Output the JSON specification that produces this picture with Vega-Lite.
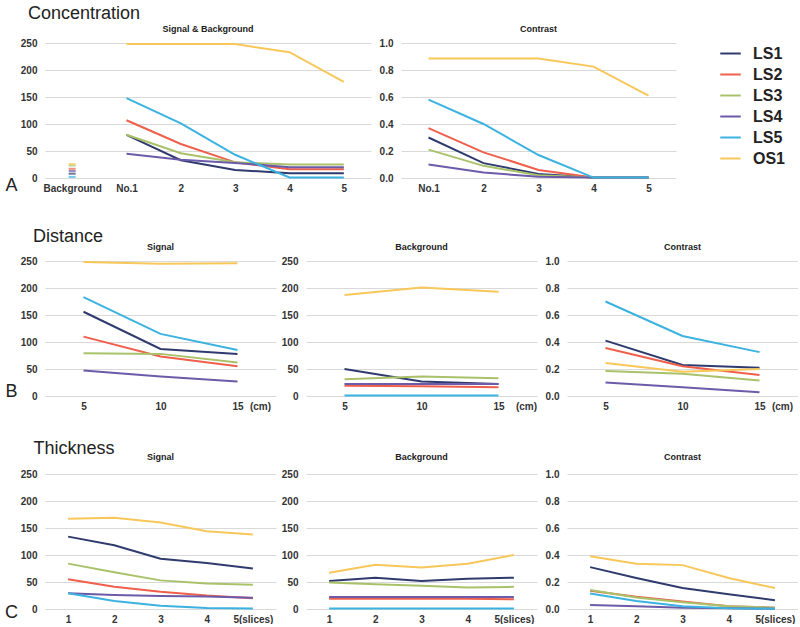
{
"$schema": "https://vega.github.io/schema/vega-lite/v6.json",
"background": "white",
"padding": {"left": 4, "top": 5, "right": 0, "bottom": 0},
"datasets": {"d": [
{"p":"A1","x":"Background","s":"LS1","v":8},{"p":"A1","x":"Background","s":"LS2","v":17},{"p":"A1","x":"Background","s":"LS3","v":23},{"p":"A1","x":"Background","s":"LS4","v":13},{"p":"A1","x":"Background","s":"LS5","v":2},{"p":"A1","x":"Background","s":"OS1","v":26},
{"p":"A1","x":"No.1","s":"LS1","v":80},{"p":"A1","x":"2","s":"LS1","v":33},{"p":"A1","x":"3","s":"LS1","v":15},{"p":"A1","x":"4","s":"LS1","v":9},{"p":"A1","x":"5","s":"LS1","v":9},
{"p":"A1","x":"No.1","s":"LS2","v":107},{"p":"A1","x":"2","s":"LS2","v":63},{"p":"A1","x":"3","s":"LS2","v":29},{"p":"A1","x":"4","s":"LS2","v":16},{"p":"A1","x":"5","s":"LS2","v":16},
{"p":"A1","x":"No.1","s":"LS3","v":80},{"p":"A1","x":"2","s":"LS3","v":46},{"p":"A1","x":"3","s":"LS3","v":29},{"p":"A1","x":"4","s":"LS3","v":25},{"p":"A1","x":"5","s":"LS3","v":25},
{"p":"A1","x":"No.1","s":"LS4","v":45},{"p":"A1","x":"2","s":"LS4","v":34},{"p":"A1","x":"3","s":"LS4","v":28},{"p":"A1","x":"4","s":"LS4","v":20},{"p":"A1","x":"5","s":"LS4","v":20},
{"p":"A1","x":"No.1","s":"LS5","v":148},{"p":"A1","x":"2","s":"LS5","v":101},{"p":"A1","x":"3","s":"LS5","v":43},{"p":"A1","x":"4","s":"LS5","v":1},{"p":"A1","x":"5","s":"LS5","v":1},
{"p":"A1","x":"No.1","s":"OS1","v":248},{"p":"A1","x":"2","s":"OS1","v":248},{"p":"A1","x":"3","s":"OS1","v":248},{"p":"A1","x":"4","s":"OS1","v":233},{"p":"A1","x":"5","s":"OS1","v":178},
{"p":"A2","x":"No.1","s":"LS1","v":0.30},{"p":"A2","x":"2","s":"LS1","v":0.11},{"p":"A2","x":"3","s":"LS1","v":0.03},{"p":"A2","x":"4","s":"LS1","v":0.003},{"p":"A2","x":"5","s":"LS1","v":0.003},
{"p":"A2","x":"No.1","s":"LS2","v":0.37},{"p":"A2","x":"2","s":"LS2","v":0.19},{"p":"A2","x":"3","s":"LS2","v":0.06},{"p":"A2","x":"4","s":"LS2","v":0.003},{"p":"A2","x":"5","s":"LS2","v":0.003},
{"p":"A2","x":"No.1","s":"LS3","v":0.21},{"p":"A2","x":"2","s":"LS3","v":0.09},{"p":"A2","x":"3","s":"LS3","v":0.02},{"p":"A2","x":"4","s":"LS3","v":0.003},{"p":"A2","x":"5","s":"LS3","v":0.003},
{"p":"A2","x":"No.1","s":"LS4","v":0.10},{"p":"A2","x":"2","s":"LS4","v":0.04},{"p":"A2","x":"3","s":"LS4","v":0.01},{"p":"A2","x":"4","s":"LS4","v":0.003},{"p":"A2","x":"5","s":"LS4","v":0.003},
{"p":"A2","x":"No.1","s":"LS5","v":0.58},{"p":"A2","x":"2","s":"LS5","v":0.40},{"p":"A2","x":"3","s":"LS5","v":0.17},{"p":"A2","x":"4","s":"LS5","v":0.003},{"p":"A2","x":"5","s":"LS5","v":0.003},
{"p":"A2","x":"No.1","s":"OS1","v":0.885},{"p":"A2","x":"2","s":"OS1","v":0.885},{"p":"A2","x":"3","s":"OS1","v":0.885},{"p":"A2","x":"4","s":"OS1","v":0.825},{"p":"A2","x":"5","s":"OS1","v":0.61},
{"p":"B1","x":"5","s":"LS1","v":156},{"p":"B1","x":"10","s":"LS1","v":87},{"p":"B1","x":"15","s":"LS1","v":78},
{"p":"B1","x":"5","s":"LS2","v":110},{"p":"B1","x":"10","s":"LS2","v":73},{"p":"B1","x":"15","s":"LS2","v":55},
{"p":"B1","x":"5","s":"LS3","v":79},{"p":"B1","x":"10","s":"LS3","v":78},{"p":"B1","x":"15","s":"LS3","v":62},
{"p":"B1","x":"5","s":"LS4","v":47},{"p":"B1","x":"10","s":"LS4","v":36},{"p":"B1","x":"15","s":"LS4","v":27},
{"p":"B1","x":"5","s":"LS5","v":183},{"p":"B1","x":"10","s":"LS5","v":115},{"p":"B1","x":"15","s":"LS5","v":85},
{"p":"B1","x":"5","s":"OS1","v":248},{"p":"B1","x":"10","s":"OS1","v":245},{"p":"B1","x":"15","s":"OS1","v":246},
{"p":"B2","x":"5","s":"LS1","v":50},{"p":"B2","x":"10","s":"LS1","v":27},{"p":"B2","x":"15","s":"LS1","v":22},
{"p":"B2","x":"5","s":"LS2","v":19},{"p":"B2","x":"10","s":"LS2","v":18},{"p":"B2","x":"15","s":"LS2","v":16},
{"p":"B2","x":"5","s":"LS3","v":31},{"p":"B2","x":"10","s":"LS3","v":36},{"p":"B2","x":"15","s":"LS3","v":33},
{"p":"B2","x":"5","s":"LS4","v":22},{"p":"B2","x":"10","s":"LS4","v":22},{"p":"B2","x":"15","s":"LS4","v":22},
{"p":"B2","x":"5","s":"LS5","v":1},{"p":"B2","x":"10","s":"LS5","v":1},{"p":"B2","x":"15","s":"LS5","v":1},
{"p":"B2","x":"5","s":"OS1","v":187},{"p":"B2","x":"10","s":"OS1","v":201},{"p":"B2","x":"15","s":"OS1","v":193},
{"p":"B3","x":"5","s":"LS1","v":0.41},{"p":"B3","x":"10","s":"LS1","v":0.23},{"p":"B3","x":"15","s":"LS1","v":0.21},
{"p":"B3","x":"5","s":"LS2","v":0.355},{"p":"B3","x":"10","s":"LS2","v":0.22},{"p":"B3","x":"15","s":"LS2","v":0.155},
{"p":"B3","x":"5","s":"LS3","v":0.185},{"p":"B3","x":"10","s":"LS3","v":0.165},{"p":"B3","x":"15","s":"LS3","v":0.115},
{"p":"B3","x":"5","s":"LS4","v":0.10},{"p":"B3","x":"10","s":"LS4","v":0.065},{"p":"B3","x":"15","s":"LS4","v":0.027},
{"p":"B3","x":"5","s":"LS5","v":0.70},{"p":"B3","x":"10","s":"LS5","v":0.445},{"p":"B3","x":"15","s":"LS5","v":0.325},
{"p":"B3","x":"5","s":"OS1","v":0.245},{"p":"B3","x":"10","s":"OS1","v":0.18},{"p":"B3","x":"15","s":"OS1","v":0.20},
{"p":"C1","x":"1","s":"LS1","v":134},{"p":"C1","x":"2","s":"LS1","v":118},{"p":"C1","x":"3","s":"LS1","v":93},{"p":"C1","x":"4","s":"LS1","v":85},{"p":"C1","x":"5","s":"LS1","v":75},
{"p":"C1","x":"1","s":"LS2","v":55},{"p":"C1","x":"2","s":"LS2","v":41},{"p":"C1","x":"3","s":"LS2","v":32},{"p":"C1","x":"4","s":"LS2","v":25},{"p":"C1","x":"5","s":"LS2","v":20},
{"p":"C1","x":"1","s":"LS3","v":84},{"p":"C1","x":"2","s":"LS3","v":68},{"p":"C1","x":"3","s":"LS3","v":53},{"p":"C1","x":"4","s":"LS3","v":47},{"p":"C1","x":"5","s":"LS3","v":45},
{"p":"C1","x":"1","s":"LS4","v":29},{"p":"C1","x":"2","s":"LS4","v":26},{"p":"C1","x":"3","s":"LS4","v":24},{"p":"C1","x":"4","s":"LS4","v":23},{"p":"C1","x":"5","s":"LS4","v":21},
{"p":"C1","x":"1","s":"LS5","v":29},{"p":"C1","x":"2","s":"LS5","v":15},{"p":"C1","x":"3","s":"LS5","v":6},{"p":"C1","x":"4","s":"LS5","v":2},{"p":"C1","x":"5","s":"LS5","v":1},
{"p":"C1","x":"1","s":"OS1","v":167},{"p":"C1","x":"2","s":"OS1","v":169},{"p":"C1","x":"3","s":"OS1","v":160},{"p":"C1","x":"4","s":"OS1","v":144},{"p":"C1","x":"5","s":"OS1","v":138},
{"p":"C2","x":"1","s":"LS1","v":52},{"p":"C2","x":"2","s":"LS1","v":58},{"p":"C2","x":"3","s":"LS1","v":52},{"p":"C2","x":"4","s":"LS1","v":56},{"p":"C2","x":"5","s":"LS1","v":58},
{"p":"C2","x":"1","s":"LS2","v":19},{"p":"C2","x":"2","s":"LS2","v":19},{"p":"C2","x":"3","s":"LS2","v":19},{"p":"C2","x":"4","s":"LS2","v":19},{"p":"C2","x":"5","s":"LS2","v":18},
{"p":"C2","x":"1","s":"LS3","v":49},{"p":"C2","x":"2","s":"LS3","v":46},{"p":"C2","x":"3","s":"LS3","v":43},{"p":"C2","x":"4","s":"LS3","v":40},{"p":"C2","x":"5","s":"LS3","v":41},
{"p":"C2","x":"1","s":"LS4","v":22},{"p":"C2","x":"2","s":"LS4","v":22},{"p":"C2","x":"3","s":"LS4","v":22},{"p":"C2","x":"4","s":"LS4","v":22},{"p":"C2","x":"5","s":"LS4","v":22},
{"p":"C2","x":"1","s":"LS5","v":1},{"p":"C2","x":"2","s":"LS5","v":1},{"p":"C2","x":"3","s":"LS5","v":1},{"p":"C2","x":"4","s":"LS5","v":1},{"p":"C2","x":"5","s":"LS5","v":1},
{"p":"C2","x":"1","s":"OS1","v":67},{"p":"C2","x":"2","s":"OS1","v":82},{"p":"C2","x":"3","s":"OS1","v":77},{"p":"C2","x":"4","s":"OS1","v":84},{"p":"C2","x":"5","s":"OS1","v":100},
{"p":"C3","x":"1","s":"LS1","v":0.31},{"p":"C3","x":"2","s":"LS1","v":0.23},{"p":"C3","x":"3","s":"LS1","v":0.155},{"p":"C3","x":"4","s":"LS1","v":0.11},{"p":"C3","x":"5","s":"LS1","v":0.065},
{"p":"C3","x":"1","s":"LS2","v":0.135},{"p":"C3","x":"2","s":"LS2","v":0.09},{"p":"C3","x":"3","s":"LS2","v":0.055},{"p":"C3","x":"4","s":"LS2","v":0.02},{"p":"C3","x":"5","s":"LS2","v":0.01},
{"p":"C3","x":"1","s":"LS3","v":0.14},{"p":"C3","x":"2","s":"LS3","v":0.085},{"p":"C3","x":"3","s":"LS3","v":0.05},{"p":"C3","x":"4","s":"LS3","v":0.02},{"p":"C3","x":"5","s":"LS3","v":0.01},
{"p":"C3","x":"1","s":"LS4","v":0.03},{"p":"C3","x":"2","s":"LS4","v":0.02},{"p":"C3","x":"3","s":"LS4","v":0.01},{"p":"C3","x":"4","s":"LS4","v":0.005},{"p":"C3","x":"5","s":"LS4","v":0.002},
{"p":"C3","x":"1","s":"LS5","v":0.115},{"p":"C3","x":"2","s":"LS5","v":0.06},{"p":"C3","x":"3","s":"LS5","v":0.02},{"p":"C3","x":"4","s":"LS5","v":0.005},{"p":"C3","x":"5","s":"LS5","v":0.002},
{"p":"C3","x":"1","s":"OS1","v":0.39},{"p":"C3","x":"2","s":"OS1","v":0.335},{"p":"C3","x":"3","s":"OS1","v":0.325},{"p":"C3","x":"4","s":"OS1","v":0.23},{"p":"C3","x":"5","s":"OS1","v":0.155}
]},
"config": {
"view": {"stroke": null},
"font": "Liberation Sans",
"axis": {"grid": true, "gridColor": "#d9d9d9", "gridWidth": 1, "domain": false, "ticks": false, "tickSize": 0, "labelFont": "Liberation Sans", "labelFontSize": 10, "labelFontWeight": "bold", "labelColor": "#333333", "labelPadding": 8},
"axisX": {"grid": false, "labelPadding": 5, "labelAngle": 0},
"title": {"fontSize": 9, "fontWeight": "bold", "color": "#222222", "offset": 4, "font": "Liberation Sans"},
"legend": {"orient": "none", "legendX": 674, "legendY": -1, "symbolType": "stroke", "symbolSize": 420, "symbolStrokeWidth": 3, "labelFontSize": 16, "labelFontWeight": "bold", "labelColor": "#222222", "labelFont": "Liberation Sans", "labelOffset": 11, "rowPadding": 1},
"line": {"strokeWidth": 2}
},
"spacing": 34,
"vconcat": [
{
"title": {"text": "Concentration", "anchor": "start", "fontSize": 18, "fontWeight": "normal", "dx": 23, "offset": 2},
"bounds": "flush", "spacing": 30,
"hconcat": [
{"width": 326, "height": 135, "title": "Signal & Background", "data": {"name": "d"}, "transform": [{"filter": "datum.p == 'A1'"}],
"encoding": {
"x": {"field": "x", "type": "ordinal", "scale": {"type": "point", "padding": 0.5, "domain": ["Background","No.1","2","3","4","5"]}, "axis": {"title": null}},
"y": {"field": "v", "type": "quantitative", "scale": {"domain": [0, 250]}, "axis": {"values": [0,50,100,150,200,250], "title": "A", "titleAngle": 0, "titleX": -34, "titleY": 142, "titleAlign": "center", "titleBaseline": "middle", "titleFontSize": 18, "titleFontWeight": "normal", "titleColor": "#222222", "titleFont": "Liberation Sans"}},
"color": {"field": "s", "type": "nominal", "scale": {"domain": ["LS1","LS2","LS3","LS4","LS5","OS1"], "range": ["#2f3b6e","#ee5f4c","#a9c26a","#6b5ba8","#3bb2e0","#f7c75a"]}, "legend": {"title": null}}
},
"layer": [
{"transform": [{"filter": "datum.x != 'Background'"}], "mark": {"type": "line", "strokeWidth": 2}},
{"transform": [{"filter": "datum.x == 'Background'"}], "mark": {"type": "tick", "orient": "horizontal", "size": 7, "thickness": 2}}
]},
{"width": 275, "height": 135, "title": "Contrast", "data": {"name": "d"}, "transform": [{"filter": "datum.p == 'A2'"}],
"mark": {"type": "line", "strokeWidth": 2},
"encoding": {
"x": {"field": "x", "type": "ordinal", "scale": {"type": "point", "padding": 0.5, "domain": ["No.1","2","3","4","5"]}, "axis": {"title": null}},
"y": {"field": "v", "type": "quantitative", "scale": {"domain": [0, 1]}, "axis": {"values": [0,0.2,0.4,0.6,0.8,1], "format": ".1f", "title": null}},
"color": {"field": "s", "type": "nominal", "legend": {"title": null}}
}}
]},
{
"spacing": 29,
"vconcat": [
{
"title": {"text": "Distance", "anchor": "start", "fontSize": 18, "fontWeight": "normal", "dx": 28, "offset": -3},
"bounds": "flush", "spacing": 30,
"hconcat": [
{"width": 231, "height": 135, "title": "Signal", "data": {"name": "d"}, "transform": [{"filter": "datum.p == 'B1'"}],
"mark": {"type": "line", "strokeWidth": 2},
"encoding": {
"x": {"field": "x", "type": "ordinal", "scale": {"type": "point", "padding": 0.5, "domain": ["5","10","15"]}, "axis": {"title": "(cm)", "titleX": 215, "titleY": 10, "titleAlign": "center", "titleBaseline": "middle", "titleFontSize": 10, "titleFontWeight": "bold", "titleColor": "#333333"}},
"y": {"field": "v", "type": "quantitative", "scale": {"domain": [0, 250]}, "axis": {"values": [0,50,100,150,200,250], "title": "B", "titleAngle": 0, "titleX": -34, "titleY": 130, "titleAlign": "center", "titleBaseline": "middle", "titleFontSize": 18, "titleFontWeight": "normal", "titleColor": "#222222", "titleFont": "Liberation Sans"}},
"color": {"field": "s", "type": "nominal", "legend": {"title": null}}
}},
{"width": 231, "height": 135, "title": "Background", "data": {"name": "d"}, "transform": [{"filter": "datum.p == 'B2'"}],
"mark": {"type": "line", "strokeWidth": 2},
"encoding": {
"x": {"field": "x", "type": "ordinal", "scale": {"type": "point", "padding": 0.5, "domain": ["5","10","15"]}, "axis": {"title": "(cm)", "titleX": 220, "titleY": 10, "titleAlign": "center", "titleBaseline": "middle", "titleFontSize": 10, "titleFontWeight": "bold", "titleColor": "#333333"}},
"y": {"field": "v", "type": "quantitative", "scale": {"domain": [0, 250]}, "axis": {"values": [0,50,100,150,200,250], "title": null}},
"color": {"field": "s", "type": "nominal", "legend": {"title": null}}
}},
{"width": 231, "height": 135, "title": "Contrast", "data": {"name": "d"}, "transform": [{"filter": "datum.p == 'B3'"}],
"mark": {"type": "line", "strokeWidth": 2},
"encoding": {
"x": {"field": "x", "type": "ordinal", "scale": {"type": "point", "padding": 0.5, "domain": ["5","10","15"]}, "axis": {"title": "(cm)", "titleX": 215, "titleY": 10, "titleAlign": "center", "titleBaseline": "middle", "titleFontSize": 10, "titleFontWeight": "bold", "titleColor": "#333333"}},
"y": {"field": "v", "type": "quantitative", "scale": {"domain": [0, 1]}, "axis": {"values": [0,0.2,0.4,0.6,0.8,1], "format": ".1f", "title": null}},
"color": {"field": "s", "type": "nominal", "legend": {"title": null}}
}}
]},
{
"title": {"text": "Thickness", "anchor": "start", "fontSize": 18, "fontWeight": "normal", "dx": 29, "offset": -5},
"bounds": "flush", "spacing": 30,
"hconcat": [
{"width": 231, "height": 135, "title": {"text": "Signal", "offset": 7}, "data": {"name": "d"}, "transform": [{"filter": "datum.p == 'C1'"}],
"mark": {"type": "line", "strokeWidth": 2},
"encoding": {
"x": {"field": "x", "type": "ordinal", "scale": {"type": "point", "padding": 0.5, "domain": ["1","2","3","4","5"]}, "axis": {"title": null, "labelExpr": "datum.value == '5' ? '5(slices)' : datum.value"}},
"y": {"field": "v", "type": "quantitative", "scale": {"domain": [0, 250]}, "axis": {"values": [0,50,100,150,200,250], "title": "C", "titleAngle": 0, "titleX": -34, "titleY": 138, "titleAlign": "center", "titleBaseline": "middle", "titleFontSize": 18, "titleFontWeight": "normal", "titleColor": "#222222", "titleFont": "Liberation Sans"}},
"color": {"field": "s", "type": "nominal", "legend": {"title": null}}
}},
{"width": 231, "height": 135, "title": {"text": "Background", "offset": 7}, "data": {"name": "d"}, "transform": [{"filter": "datum.p == 'C2'"}],
"mark": {"type": "line", "strokeWidth": 2},
"encoding": {
"x": {"field": "x", "type": "ordinal", "scale": {"type": "point", "padding": 0.5, "domain": ["1","2","3","4","5"]}, "axis": {"title": null, "labelExpr": "datum.value == '5' ? '5(slices)' : datum.value"}},
"y": {"field": "v", "type": "quantitative", "scale": {"domain": [0, 250]}, "axis": {"values": [0,50,100,150,200,250], "title": null}},
"color": {"field": "s", "type": "nominal", "legend": {"title": null}}
}},
{"width": 231, "height": 135, "title": {"text": "Contrast", "offset": 7}, "data": {"name": "d"}, "transform": [{"filter": "datum.p == 'C3'"}],
"mark": {"type": "line", "strokeWidth": 2},
"encoding": {
"x": {"field": "x", "type": "ordinal", "scale": {"type": "point", "padding": 0.5, "domain": ["1","2","3","4","5"]}, "axis": {"title": null, "labelExpr": "datum.value == '5' ? '5(slices)' : datum.value"}},
"y": {"field": "v", "type": "quantitative", "scale": {"domain": [0, 1]}, "axis": {"values": [0,0.2,0.4,0.6,0.8,1], "format": ".1f", "title": null}},
"color": {"field": "s", "type": "nominal", "legend": {"title": null}}
}}
]}
]}
]
}
